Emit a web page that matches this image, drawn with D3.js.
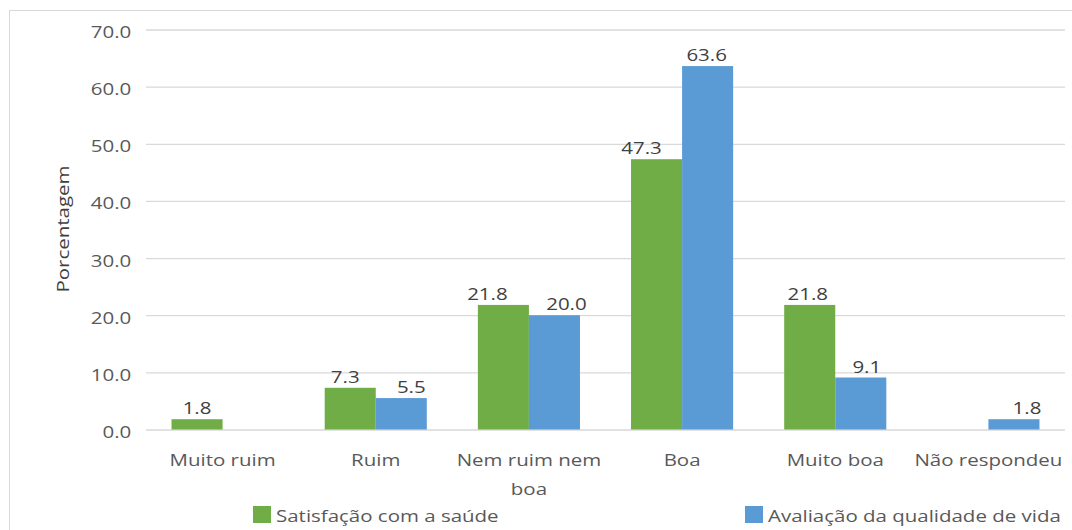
<!DOCTYPE html>
<html>
<head>
<meta charset="utf-8">
<script src="https://cdn.jsdelivr.net/npm/d3@7"></script>
<style>
  body { margin: 0; background: #fff; }
  text { font-family: "Open Sans", sans-serif; }
</style>
</head>
<body>
<svg width="1072" height="530"></svg>
<script>
const categories = [ 'Muito ruim', 'Ruim', 'Nem ruim nem boa', 'Boa', 'Muito boa', 'Não respondeu' ];
const seriesNames = [ 'Satisfação com a saúde', 'Avaliação da qualidade de vida' ];
const satisfacao = [ 1.8, 7.3, 21.8, 47.3, 21.8, null ];
const qualidade = [ null, 5.5, 20.0, 63.6, 9.1, 1.8 ];
const yTicks = [ 0, 10, 20, 30, 40, 50, 60, 70 ];

// labels that were nudged sideways in the original (pixels)
const labelNudge = [
  [ 0, -5, -16, -15, -2, 0 ],
  [ 0, 10, 12, -1, 6, 13 ]
];

const colors = [ '#70ad47', '#5b9bd5' ];
// the text in the picture is drawn wide, so stretch it sideways
const SX = 1.28;

const svg = d3.select( 'svg' );

// outer border of the chart area
svg.append( 'rect' )
   .attr( 'x', 9.5 ).attr( 'y', 10.5 )
   .attr( 'width', 1100 ).attr( 'height', 600 )
   .attr( 'fill', 'none' )
   .attr( 'stroke', '#d9d9d9' );

const plotLeft = 146, plotRight = 1065, plotTop = 29.5, plotBottom = 429.5;

const x0 = d3.scaleBand().domain( categories ).range( [ plotLeft, plotRight ] );
const x1 = d3.scaleBand().domain( [ 0, 1 ] )
             .range( [ x0.bandwidth() / 6, x0.bandwidth() * 5 / 6 ] );
const y = d3.scaleLinear().domain( [ 0, 70 ] ).range( [ plotBottom, plotTop ] );

// y axis with gridlines
const yAxis = svg.append( 'g' )
  .attr( 'transform', 'translate(' + plotLeft + ',0)' )
  .call( d3.axisLeft( y ).tickValues( yTicks ).tickSize( -( plotRight - plotLeft ) )
           .tickFormat( d => d.toFixed( 1 ) ).tickPadding( 0 ) );
yAxis.select( '.domain' ).remove();
yAxis.selectAll( 'line' ).attr( 'stroke', '#d9d9d9' ).attr( 'stroke-width', 1.3 );
yAxis.selectAll( 'text' )
  .attr( 'x', -11.5 ).attr( 'dy', '0.5em' )
  .attr( 'transform', 'scale(' + SX + ',1)' )
  .attr( 'fill', '#595959' )
  .style( 'font-size', '16px' )
  .style( 'font-family', '"Open Sans", sans-serif' );

// y title
svg.append( 'text' )
  .attr( 'transform', 'translate(69,229) rotate(-90) scale(' + SX + ',1)' )
  .attr( 'text-anchor', 'middle' )
  .attr( 'fill', '#404040' )
  .style( 'font-size', '16px' )
  .text( 'Porcentagem' );

// bars
const rows = categories.map( ( c, i ) => ( { cat: c, i: i, vals: [ satisfacao[ i ], qualidade[ i ] ] } ) );

const groups = svg.selectAll( '.cat' )
  .data( rows )
  .enter().append( 'g' )
  .attr( 'class', 'cat' )
  .attr( 'transform', d => 'translate(' + x0( d.cat ) + ',0)' );

groups.selectAll( 'rect' )
  .data( d => d.vals.map( ( v, k ) => ( { k: k, v: v, i: d.i } ) ).filter( e => e.v !== null ) )
  .enter().append( 'rect' )
  .attr( 'x', d => x1( d.k ) )
  .attr( 'y', d => y( d.v ) )
  .attr( 'width', x1.bandwidth() )
  .attr( 'height', d => plotBottom - y( d.v ) )
  .attr( 'fill', d => colors[ d.k ] );

groups.selectAll( '.val' )
  .data( d => d.vals.map( ( v, k ) => ( { k: k, v: v, i: d.i } ) ).filter( e => e.v !== null ) )
  .enter().append( 'text' )
  .attr( 'class', 'val' )
  .attr( 'transform', d => 'translate(' + ( x1( d.k ) + x1.bandwidth() / 2 + labelNudge[ d.k ][ d.i ] ) + ',' + ( y( d.v ) - 5 ) + ') scale(' + SX + ',1)' )
  .attr( 'text-anchor', 'middle' )
  .attr( 'fill', '#404040' )
  .style( 'font-size', '16px' )
  .text( d => d.v.toFixed( 1 ) );

// category labels, wrapped to the band width
const catLabels = svg.selectAll( '.catlabel' )
  .data( categories )
  .enter().append( 'text' )
  .attr( 'class', 'catlabel' )
  .attr( 'transform', d => 'translate(' + ( x0( d ) + x0.bandwidth() / 2 ) + ',466) scale(' + SX + ',1)' )
  .attr( 'text-anchor', 'middle' )
  .attr( 'fill', '#595959' )
  .style( 'font-size', '16px' );

catLabels.each( function( d ) {
  const t = d3.select( this );
  const words = d.split( ' ' );
  const maxW = ( x0.bandwidth() + 4 ) / SX;
  let line = [];
  let tspan = t.append( 'tspan' ).attr( 'x', 0 ).attr( 'dy', 0 );
  words.forEach( w => {
    line.push( w );
    tspan.text( line.join( ' ' ) );
    if ( tspan.node().getComputedTextLength() > maxW && line.length > 1 ) {
      line.pop();
      tspan.text( line.join( ' ' ) );
      line = [ w ];
      tspan = t.append( 'tspan' ).attr( 'x', 0 ).attr( 'dy', 29 ).text( w );
    }
  } );
} );

// legend
const legendX = [ 253, 745 ];
const legend = svg.selectAll( '.leg' )
  .data( seriesNames )
  .enter().append( 'g' )
  .attr( 'class', 'leg' )
  .attr( 'transform', ( d, i ) => 'translate(' + legendX[ i ] + ',506)' );

legend.append( 'rect' )
  .attr( 'width', 18 ).attr( 'height', 17 )
  .attr( 'fill', ( d, i ) => colors[ i ] );

legend.append( 'text' )
  .attr( 'transform', 'translate(23,16) scale(' + SX + ',1)' )
  .attr( 'fill', '#595959' )
  .style( 'font-size', '16px' )
  .text( d => d );
</script>
</body>
</html>
